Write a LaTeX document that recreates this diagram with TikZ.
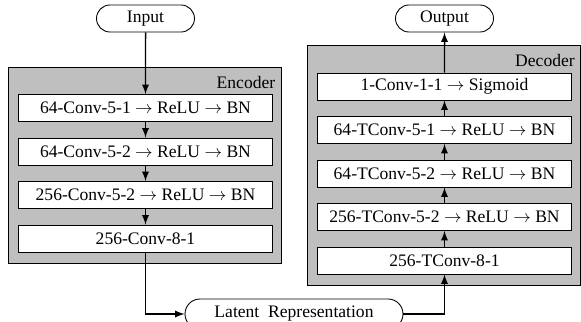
\documentclass[tikz,border=0pt]{standalone}
\usepackage{fontspec}
\setmainfont{Liberation Serif}
\usetikzlibrary{shapes.misc}

\begin{document}
\begin{tikzpicture}[
        grp/.style={draw, fill=black!25, line width=.5pt, inner sep=0pt},
        layer/.style={draw, fill=white, line width=.5pt, minimum width=5.08cm,
          minimum height=.54cm, inner sep=0pt, font=\normalsize},
        io/.style={rounded rectangle, draw, fill=white, line width=.5pt,
          minimum height=.54cm, inner sep=0pt},
        arr/.style={-latex, line width=.85pt}]

      \useasboundingbox (0,0) rectangle (11.62,6.44);

      % groups
      \node[grp, minimum width=5.46cm, minimum height=3.92cm] (enc) at (2.89,3.14) {};
      \node[anchor=east] at ([yshift=-.32cm]enc.north east) {Encoder};
      \node[grp, minimum width=5.47cm, minimum height=4.8cm] (dec) at (8.875,3.14) {};
      \node[anchor=east] at ([yshift=-.32cm]dec.north east) {Decoder};

      % input / output
      \node[io, minimum width=1.96cm] (in) at (2.91,6.07) {Input};
      \node[io, minimum width=1.96cm] (out) at (8.89,6.07) {Output};

      % encoder
      \node[layer] (e1) at (2.91,4.28) {64-Conv-5-1 $\rightarrow$ ReLU $\rightarrow$ BN};
      \node[layer] (e2) at (2.91,3.41) {64-Conv-5-2 $\rightarrow$ ReLU $\rightarrow$ BN};
      \node[layer] (e3) at (2.91,2.54) {256-Conv-5-2 $\rightarrow$ ReLU $\rightarrow$ BN};
      \node[layer] (e4) at (2.91,1.67) {256-Conv-8-1};

      % decoder
      \node[layer] (d1) at (8.89,4.71) {1-Conv-1-1 $\rightarrow$ Sigmoid};
      \node[layer] (d2) at (8.89,3.84) {64-TConv-5-1 $\rightarrow$ ReLU $\rightarrow$ BN};
      \node[layer] (d3) at (8.89,2.97) {64-TConv-5-2 $\rightarrow$ ReLU $\rightarrow$ BN};
      \node[layer] (d4) at (8.89,2.10) {256-TConv-5-2 $\rightarrow$ ReLU $\rightarrow$ BN};
      \node[layer] (d5) at (8.89,1.23) {256-TConv-8-1};

      % latent
      \node[io, minimum width=4.36cm, minimum height=.6cm] (lat) at (5.88,.16)
        {Latent\ \ Representation};

      \draw[arr] (in) -- (e1);
      \draw[arr] (e1) -- (e2);
      \draw[arr] (e2) -- (e3);
      \draw[arr] (e3) -- (e4);
      \draw[arr] (e4.south) |- (lat.west);
      \draw[arr] (lat.east) -| (d5.south);
      \draw[arr] (d5) -- (d4);
      \draw[arr] (d4) -- (d3);
      \draw[arr] (d3) -- (d2);
      \draw[arr] (d2) -- (d1);
      \draw[arr] (d1) -- (out);
    \end{tikzpicture}
\end{document}
